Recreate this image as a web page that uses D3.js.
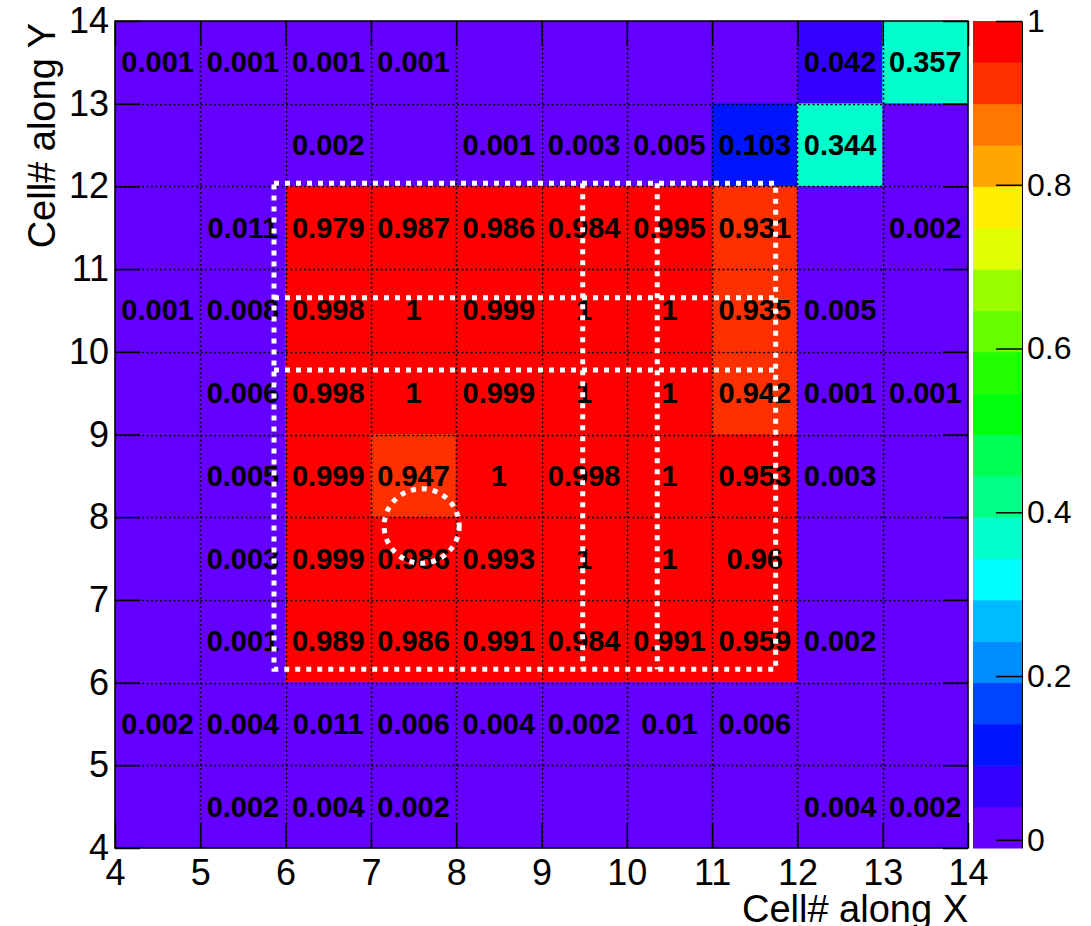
<!DOCTYPE html>
<html>
<head>
<meta charset="utf-8">
<script src="https://cdn.jsdelivr.net/npm/d3@7"></script>
<style>
  html, body { margin: 0; padding: 0; background: #fff; }
  svg { display: block; font-family: "Liberation Sans", Arial, Helvetica, sans-serif; }
</style>
</head>
<body>
<svg id="chart" width="1091" height="926"></svg>
<script>
// Lower edges of the cell bins along X and Y (rows listed top to bottom)
const xBins = [4, 5, 6, 7, 8, 9, 10, 11, 12, 13];
const yBins = [13, 12, 11, 10, 9, 8, 7, 6, 5, 4];

// Fraction per cell, one row per Y bin (top row first), columns follow xBins
const cellValues = [
  [0.001, 0.001, 0.001, 0.001, 0,     0,     0,     0,     0.042, 0.357],
  [0,     0,     0.002, 0,     0.001, 0.003, 0.005, 0.103, 0.344, 0    ],
  [0,     0.011, 0.979, 0.987, 0.986, 0.984, 0.995, 0.931, 0,     0.002],
  [0.001, 0.008, 0.998, 1,     0.999, 1,     1,     0.935, 0.005, 0    ],
  [0,     0.006, 0.998, 1,     0.999, 1,     1,     0.942, 0.001, 0.001],
  [0,     0.005, 0.999, 0.947, 1,     0.998, 1,     0.953, 0.003, 0    ],
  [0,     0.003, 0.999, 0.986, 0.993, 1,     1,     0.96,  0,     0    ],
  [0,     0.001, 0.989, 0.986, 0.991, 0.984, 0.991, 0.959, 0.002, 0    ],
  [0.002, 0.004, 0.011, 0.006, 0.004, 0.002, 0.01,  0.006, 0,     0    ],
  [0,     0.002, 0.004, 0.002, 0,     0,     0,     0,     0.004, 0.002]
];

const xTicks = [4, 5, 6, 7, 8, 9, 10, 11, 12, 13, 14];
const yTicks = [4, 5, 6, 7, 8, 9, 10, 11, 12, 13, 14];
const zTicks = [0, 0.2, 0.4, 0.6, 0.8, 1];
const zRange = [-0.01, 1];
const nLevels = 20;

// Dotted outlines of the module region (data units)
const outlineBox = { x0: 5.864, x1: 11.745, y0: 6.161, y1: 12.037 };
const innerRows = [10.654, 9.78];
const innerCols = [9.483, 10.357];
const ring = { cx: 7.595, cy: 7.894, rx: 0.44, ry: 0.45 };

(function draw() {
  const svg = d3.select("#chart");
  const pL = 115, pR = 968, pT = 21, pB = 848;

  const x = d3.scaleLinear().domain([4, 14]).range([pL, pR]);
  const y = d3.scaleLinear().domain([4, 14]).range([pB, pT]);
  const z = d3.scaleLinear().domain(zRange).range([pB, pT]);

  // Rainbow palette: 50 hues violet -> red, sampled at 20 contour levels
  const levelColors = d3.range(nLevels).map(k => {
    const idx = Math.floor((k + 0.99) * 50 / nLevels);
    const hue = 280 - (idx + 1) * 5.6;
    return d3.hsl(hue, 1, 0.5).formatHex();
  });
  const dz = (zRange[1] - zRange[0]) / nLevels;
  const levelOf = v => Math.max(0, Math.min(nLevels - 1, Math.floor((v - zRange[0]) / dz)));

  const cells = [];
  yBins.forEach((yb, r) => xBins.forEach((xb, c) => cells.push({ xb, yb, v: cellValues[r][c] })));

  // Cells
  svg.append("g").selectAll("rect").data(cells).join("rect")
    .attr("x", d => x(d.xb))
    .attr("y", d => y(d.yb + 1))
    .attr("width", d => x(d.xb + 1) - x(d.xb))
    .attr("height", d => y(d.yb) - y(d.yb + 1))
    .attr("fill", d => levelColors[levelOf(d.v)])
    .attr("stroke", d => levelColors[levelOf(d.v)])
    .attr("stroke-width", 0.5);

  // Dotted grid
  const grid = svg.append("g").attr("stroke", "#000").attr("stroke-width", 1.5)
    .attr("stroke-dasharray", "2,2.5");
  grid.selectAll("line.gx").data(xTicks.slice(1, -1)).join("line").attr("class", "gx")
    .attr("x1", d => Math.round(x(d)) + 0.5).attr("x2", d => Math.round(x(d)) + 0.5)
    .attr("y1", pT).attr("y2", pB);
  grid.selectAll("line.gy").data(yTicks.slice(1, -1)).join("line").attr("class", "gy")
    .attr("y1", d => Math.round(y(d)) + 0.5).attr("y2", d => Math.round(y(d)) + 0.5)
    .attr("x1", pL).attr("x2", pR);

  // Cell values
  const fmt = d3.format(".3~f");
  svg.append("g").selectAll("text").data(cells.filter(d => d.v !== 0)).join("text")
    .attr("x", d => x(d.xb + 0.5))
    .attr("y", d => y(d.yb + 0.5))
    .attr("text-anchor", "middle")
    .attr("dominant-baseline", "central")
    .attr("font-size", 29)
    .attr("font-weight", "bold")
    .attr("fill", "#000")
    .text(d => fmt(d.v));

  // Axes with inward ticks on all four sides
  const axisFont = 36;
  const gx = svg.append("g").attr("transform", `translate(0,${pB})`)
    .call(d3.axisBottom(x).tickValues(xTicks).tickSize(-25).tickSizeOuter(0).tickPadding(11).tickFormat(d3.format("d")));
  const gy = svg.append("g").attr("transform", `translate(${pL},0)`)
    .call(d3.axisLeft(y).tickValues(yTicks).tickSize(-25).tickSizeOuter(0).tickPadding(6).tickFormat(d3.format("d")));
  const gt = svg.append("g").attr("transform", `translate(0,${pT})`)
    .call(d3.axisTop(x).tickValues(xTicks).tickSize(-25).tickSizeOuter(0).tickFormat(""));
  const gr = svg.append("g").attr("transform", `translate(${pR},0)`)
    .call(d3.axisRight(y).tickValues(yTicks).tickSize(-25).tickSizeOuter(0).tickFormat(""));
  [gx, gy, gt, gr].forEach(g => {
    g.select(".domain").remove();
    g.selectAll(".tick line").attr("stroke", "#000").attr("stroke-width", 1.5);
    g.selectAll("text").attr("font-size", axisFont).attr("font-family", null).attr("fill", "#000");
  });

  // Frame
  svg.append("rect").attr("x", pL).attr("y", pT)
    .attr("width", pR - pL).attr("height", pB - pT)
    .attr("fill", "none").attr("stroke", "#000").attr("stroke-width", 1.5);

  // Axis titles
  svg.append("text").attr("x", pR).attr("y", 922)
    .attr("text-anchor", "end").attr("font-size", 38).attr("fill", "#000")
    .text("Cell# along X");
  svg.append("text").attr("transform", `translate(55,23) rotate(-90)`)
    .attr("text-anchor", "end").attr("font-size", 38).attr("fill", "#000")
    .text("Cell# along Y");

  // White dotted outlines
  const ov = svg.append("g").attr("fill", "none").attr("stroke", "#fff")
    .attr("stroke-width", 5).attr("stroke-dasharray", "5,6");
  ov.append("rect")
    .attr("x", x(outlineBox.x0)).attr("y", y(outlineBox.y1))
    .attr("width", x(outlineBox.x1) - x(outlineBox.x0))
    .attr("height", y(outlineBox.y0) - y(outlineBox.y1));
  ov.selectAll("line.hr").data(innerRows).join("line").attr("class", "hr")
    .attr("x1", x(outlineBox.x0)).attr("x2", x(outlineBox.x1))
    .attr("y1", d => y(d)).attr("y2", d => y(d));
  ov.selectAll("line.vc").data(innerCols).join("line").attr("class", "vc")
    .attr("y1", y(outlineBox.y1)).attr("y2", y(outlineBox.y0))
    .attr("x1", d => x(d)).attr("x2", d => x(d));
  ov.append("ellipse")
    .attr("cx", x(ring.cx)).attr("cy", y(ring.cy))
    .attr("rx", x(ring.cx + ring.rx) - x(ring.cx))
    .attr("ry", y(ring.cy) - y(ring.cy + ring.ry));

  // Colour bar
  const barX0 = 973, barX1 = 1022;
  svg.append("g").selectAll("rect").data(levelColors).join("rect")
    .attr("x", barX0)
    .attr("y", (c, k) => z(zRange[0] + (k + 1) * dz))
    .attr("width", barX1 - barX0)
    .attr("height", (c, k) => z(zRange[0] + k * dz) - z(zRange[0] + (k + 1) * dz) + 0.5)
    .attr("fill", c => c);
  const gz = svg.append("g").attr("transform", `translate(${barX1},0)`)
    .call(d3.axisRight(z).tickValues(zTicks).tickSize(-26).tickSizeOuter(0).tickPadding(5).tickFormat(d3.format("~g")));
  gz.select(".domain").attr("stroke", "#000").attr("stroke-width", 1);
  gz.selectAll(".tick line").attr("stroke", "#000").attr("stroke-width", 1.5);
  gz.selectAll("text").attr("font-size", 32).attr("font-family", null).attr("fill", "#000");
})();
</script>
</body>
</html>
